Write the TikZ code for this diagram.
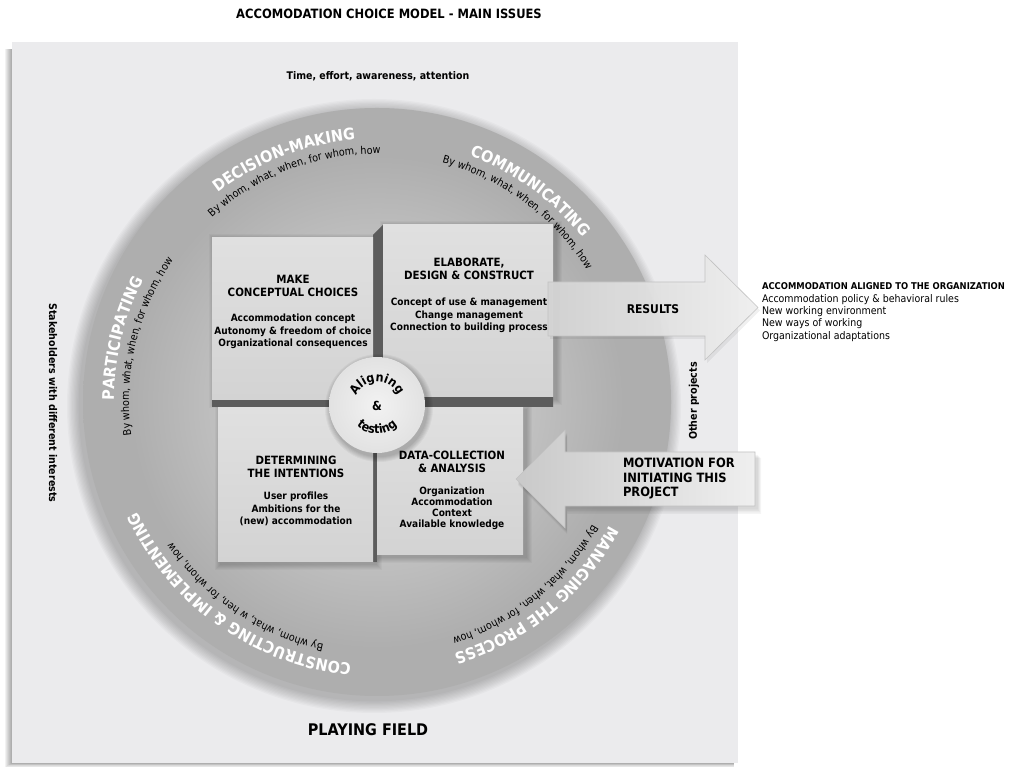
\documentclass[tikz,border=0pt]{standalone}
\usepackage{fontspec}
\setmainfont{DejaVu Sans}[FakeStretch=0.9]
\usetikzlibrary{decorations.text,calc}
\definecolor{sqbg}{HTML}{EBEBED}
\definecolor{ringin}{HTML}{C3C3C3}
\definecolor{ringout}{HTML}{AEAEAE}
\definecolor{boxtop}{HTML}{E0E0E0}
\definecolor{boxbot}{HTML}{D3D3D3}
\definecolor{bevel}{HTML}{5C5C5C}
\definecolor{arrowl}{HTML}{D4D4D4}
\definecolor{arrowr}{HTML}{EFEFEF}
\definecolor{motl}{HTML}{C9C9C9}
\definecolor{arrowedge}{HTML}{C2C2C2}
\definecolor{ccin}{HTML}{F2F2F2}
\definecolor{ccout}{HTML}{E2E2E2}
\pgfdeclareradialshading{ringshade}{\pgfpoint{0bp}{0bp}}{color(0bp)=(ringin); color(12bp)=(ringin); color(21bp)=(ringout); color(25bp)=(ringout); color(50bp)=(ringout)}
\newcommand\fsz[2]{\fontsize{#1}{#2}\selectfont}
\newcommand\ringttl{\fsz{16}{19}\bfseries}
\newcommand\ringsub{\fsz{10.7}{13}}
\newcommand\algn{\fsz{12.5}{14}\bfseries}
\newcommand\boxhead{\fsz{11.4}{12.8}\bfseries}
\newcommand\boxbody{\fsz{10}{12.3}\bfseries}
\newcommand\softshadow[4]{\foreach \s in {1,...,6}{\fill[black,opacity=0.03] (#1+3-\s,#2-2-\s) rectangle (#3+3+\s,#4-2+\s);}}
\newcommand\ringtext[3]{\path[decorate,decoration={text along path,text={#3},text align=center}] ([shift={(#1+65:#2)}]C) arc (#1+65:#1-65:#2);}
\tikzset{
  lbl/.style={inner sep=0pt, outer sep=0pt, align=center},
  boxstyle/.style={inner sep=0pt, outer sep=0pt, top color=boxtop, bottom color=boxbot},
}
\begin{document}
\begin{tikzpicture}[x=1pt,y=1pt]
\useasboundingbox (0,0) rectangle (1016,767);
\fill[white] (0,0) rectangle (1016,767);
% title
\node[lbl, font=\fsz{12.8}{15}\bfseries] (title) at (389,753) {ACCOMODATION CHOICE MODEL - MAIN ISSUES};
% playing field square with shadow
\foreach \s in {1,...,7}{\fill[black,opacity=0.05] (12-\s,4-0.6*\s) rectangle (734,718);}
\fill[sqbg] (12,4) rectangle (738,725);
% big circle
\coordinate (C) at (377,365);
\foreach \s in {1,...,10}{\fill[black,opacity=0.022] (374,361) circle (294+1.3*\s);}
\shade[shading=ringshade] (C) circle (294);
% box shadows
\softshadow{212}{367}{373}{529}
\softshadow{383}{370}{553}{542}
\softshadow{218}{205}{373}{359}
\softshadow{377}{212}{523}{359}
% bevels
\fill[bevel] (212,367) -- (373,367) -- (373,532) -- (383,542) -- (383,370) -- (553,370) -- (553,360) -- (212,360) -- cycle;
\fill[bevel] (373,359) rectangle (377,205);
% boxes
\node[boxstyle, minimum width=161, minimum height=162] (tl) at (292.5,448) {};
\node[boxstyle, minimum width=170, minimum height=172] (tr) at (468,456) {};
\node[boxstyle, minimum width=155, minimum height=154] (bl) at (295.5,282) {};
\node[boxstyle, minimum width=146, minimum height=147] (br) at (450,285.5) {};
% box texts
\node[lbl, font=\boxhead] (tlh) at (293,481) {MAKE\\CONCEPTUAL CHOICES};
\node[lbl, font=\boxbody] (tlb) at (293,435.5) {Accommodation concept\\Autonomy \& freedom of choice\\Organizational consequences};
\node[lbl, font=\boxhead] (trh) at (469,498) {ELABORATE,\\DESIGN \& CONSTRUCT};
\node[lbl, font=\boxbody] (trb) at (469,451.5) {Concept of use \& management\\Change management\\Connection to building process};
\node[lbl, font=\boxhead] (blh) at (296,300) {DETERMINING\\THE INTENTIONS};
\node[lbl, font=\boxbody] (blb) at (296,258) {User profiles\\Ambitions for the\\(new) accommodation};
\node[lbl, font=\boxhead] (brh) at (452,305) {DATA-COLLECTION\\\& ANALYSIS};
\node[lbl, font=\fsz{10}{11}\bfseries] (brb) at (452,258.5) {Organization\\Accommodation\\Context\\Available knowledge};
% center circle
\foreach \s in {1,...,6}{\fill[black,opacity=0.04] (379,359) circle (48+\s);}
\node[circle, minimum size=96, inner sep=0pt, inner color=ccin, outer color=ccout] (cc) at (377,362) {};
\node[lbl, font=\algn] (amp) at (377,361) {\&};
\path[decorate,decoration={text along path,text={|\algn|Aligning},text align=center}] ([shift={(175:23)}]cc.center) arc (175:5:23);
\path[decorate,decoration={text along path,text={|\algn|testing},text align=center}] ([shift={(195:29)}]cc.center) arc (195:345:29);
% ring texts
\ringtext{111}{263}{|\ringttl\color{white}|DECISION-MAKING}
\ringtext{110.5}{248}{|\ringsub|By whom, what, when, for whom, how}
\ringtext{54}{263}{|\ringttl\color{white}|COMMUNICATING}
\ringtext{53.5}{248}{|\ringsub|By whom, what, when, for whom, how}
\ringtext{309.5}{263}{|\ringttl\color{white}|MANAGING THE PROCESS}
\ringtext{309}{248}{|\ringsub|By whom, what, when, for whom, how}
\ringtext{234.5}{263}{|\ringttl\color{white}|CONSTRUCTING {\&} IMPLEMENTING}
\ringtext{236}{248}{|\ringsub|By whom, what, w hen, for whom, how}
\ringtext{166}{263}{|\ringttl\color{white}|PARTICIPATING}
\ringtext{166.5}{248}{|\ringsub|By whom, what, when, for whom, how}
% results arrow
\fill[black,opacity=0.06] (550,482) -- (707,482) -- (707,509) -- (760,456.5) -- (707,404) -- (707,428) -- (550,428) -- cycle;
\shadedraw[left color=arrowl, right color=arrowr, draw=arrowedge, line width=0.6, fill opacity=0.95] (548,485) -- (705,485) -- (705,512) -- (758,459.5) -- (705,407) -- (705,431) -- (548,431) -- cycle;
\node[lbl, font=\fsz{12}{14}\bfseries] (res) at (653,458) {RESULTS};
% motivation arrow
\foreach \s in {1,...,4}{\fill[black,opacity=0.04] (757+\s,313-\s) -- (567,313-\s) -- (567,335-\s) -- (518,286-\s) -- (567,237-\s) -- (567,259-1.5*\s) -- (757+\s,259-1.5*\s) -- cycle;}
\shadedraw[left color=motl, right color=arrowr, draw=arrowedge, line width=0.6] (755,315) -- (565,315) -- (565,337) -- (516,288) -- (565,239) -- (565,261) -- (755,261) -- cycle;
\node[lbl, font=\fsz{12.8}{14.5}\bfseries, align=left, anchor=west] (mot) at (623,288) {MOTIVATION FOR\\INITIATING THIS\\PROJECT};
% side texts
\node[lbl, font=\fsz{10.5}{12}\bfseries] (time) at (378,691) {Time, effort, awareness, attention};
\node[lbl, font=\fsz{10.6}{12}\bfseries, rotate=-90] (stake) at (53,364) {Stakeholders with different interests};
\node[lbl, font=\fsz{10.6}{12}\bfseries, rotate=90] (other) at (694,366) {Other projects};
\node[lbl, font=\fsz{16}{18}\bfseries] (pf) at (368,37) {PLAYING FIELD};
% result list
\node[lbl, align=left, anchor=north west, font=\fsz{10.5}{12.3}] (list) at (762,484) {{\fsz{9.35}{12.3}\bfseries ACCOMMODATION ALIGNED TO THE ORGANIZATION}\\Accommodation policy \& behavioral rules\\New working environment\\New ways of working\\Organizational adaptations};
\end{tikzpicture}
\end{document}
